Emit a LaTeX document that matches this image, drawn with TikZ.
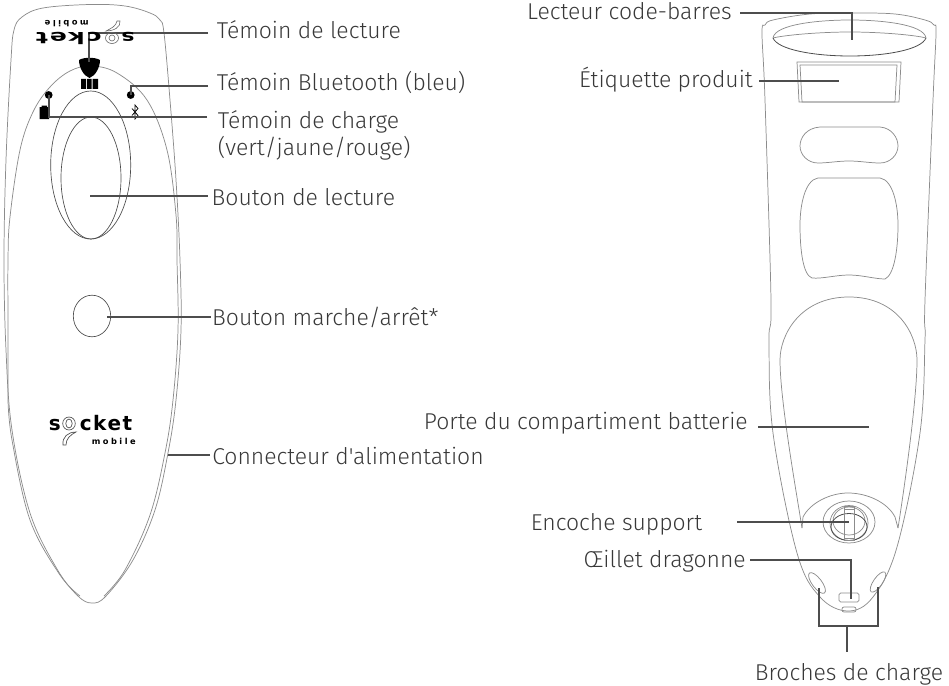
\documentclass[tikz,border=0pt]{standalone}
\usepackage{fontspec}
\newfontfamily\labfont{Fira Sans Light}
\newfontfamily\logofont{DejaVu Sans}
\definecolor{leadc}{HTML}{4D4D4D}
\definecolor{textc}{HTML}{383838}
\definecolor{outl}{HTML}{8C8C8C}
\tikzset{
 lab/.style={font=\labfont\fontsize{17.2pt}{20pt}\selectfont,text=textc,inner ysep=0pt,inner xsep=#1},
 lead/.style={draw=leadc,line width=1.6pt,line join=miter},
 body/.style={draw=outl,line width=0.55pt},
 dark/.style={draw=black!70,line width=0.6pt},
 blk/.style={fill=black,draw=none},
 logo/.style={font=\logofont\bfseries\fontsize{15pt}{15pt}\selectfont,inner sep=0pt,text=black},
 logos/.style={font=\logofont\bfseries\fontsize{6.2pt}{7pt}\selectfont,inner sep=0pt,text=black},
}
\begin{document}
\begin{tikzpicture}[x=0.75pt,y=-0.75pt]
\useasboundingbox (0,0) rectangle (949,685);
% --- left device
\draw[body] plot[smooth cycle,tension=0.6] coordinates {(92,603)(78,596)(57,569)(30,513)(12,430)(6,350)(4,260)(6,160)(11,60)(14,30)(22,17)(43,8)(90,4.5)(125,6)(150,13)(160,20)(164,33)(170,100)(176,180)(180,260)(181,330)(176,400)(168,453)(155,510)(133,560)(106,596)};
\draw[body] plot[smooth,tension=0.6] coordinates {(8,400)(8,330)(8,260)(10,217)(20,150)(33,112)(50,87)(70,71)(91,66)(117,73)(147,100)(167,150)(176,215)(177,260)(178,330)(173,400)(165,453)(150,515)(125,570)(104,596)};
\draw[body] plot[smooth,tension=0.6] coordinates {(8,400)(12,440)(30,520)(60,575)(80,596)};
\draw[draw=black!70,line width=0.5pt] (90.7,165) ellipse [x radius=40,y radius=74];
\draw[draw=black!70,line width=0.5pt] (91,178) ellipse [x radius=30,y radius=61];
\draw[draw=black!70,line width=0.5pt] (92,316) ellipse [x radius=18.7,y radius=20.8];
% top controls
\fill[blk] (79,60) .. controls (84,57) and (95,57) .. (100,60) .. controls (100,68) and (95,76) .. (89.5,78) .. controls (84,76) and (79,68) .. (79,60) -- cycle;
\fill[blk] (81,79) rectangle (86,89) (87,79) rectangle (91.5,89) (92.5,79) rectangle (98,89);
\fill[blk] (48.7,95) circle (3.9) (130.7,95) circle (3.9);
\fill[blk] (39.5,107) rectangle (49,119) (41.5,105.5) rectangle (47,107);
\draw[draw=black,line width=0.55pt] (132,108.5) -- (138,115.5) -- (135,119) -- (135,105) -- (138,108.5) -- (132,115.5);
% --- right device
\draw[body] plot[smooth cycle,tension=0.6] coordinates {(848,611)(820,597)(797,553)(773,433)(769,340)(771,300)(765,100)(762,33)(765,25)(773,20)(810,14)(852,13)(895,14)(925,20)(934,25)(936,33)(933,100)(925,300)(925,340)(920,433)(897,547)(873,597)};
\draw[body] (773,38) .. controls (775,24) and (820,20) .. (850,20) .. controls (880,20) and (924,24) .. (926,38);
\draw[body] (773,38) .. controls (785,35) and (820,32) .. (850,32) .. controls (880,32) and (915,35) .. (926,38);
\draw[dark] (773,38) .. controls (778,50) and (815,56) .. (850,56) .. controls (885,56) and (921,50) .. (926,38);
\draw[body] (797,62) -- (901,62) -- (899,102) -- (799,102) -- cycle;
\draw[body] (800,65) -- (897,65) -- (895,102) -- (802,102) -- cycle;
\draw[body] (820,127) -- (880,127) .. controls (892,128) and (898,138) .. (898,146) .. controls (898,155) and (890,163) .. (880,163) .. controls (870,163) and (860,161) .. (849,161) .. controls (838,161) and (828,163) .. (818,163) .. controls (808,163) and (800,155) .. (800,146) .. controls (800,138) and (806,128) .. (820,127) -- cycle;
\draw[body] (818,178) -- (880,178) .. controls (893,180) and (898,205) .. (898,225) .. controls (898,250) and (894,275) .. (885,279) .. controls (875,279) and (862,275) .. (849,275) .. controls (836,275) and (822,279) .. (812,278) .. controls (803,275) and (800,250) .. (800,225) .. controls (800,205) and (805,180) .. (818,178) -- cycle;
\draw[body] (802,528) .. controls (796,490) and (780,400) .. (780,360) .. controls (780,335) and (800,297) .. (849,297) .. controls (898,297) and (917,335) .. (917,360) .. controls (917,400) and (904,490) .. (898,528);
\draw[body] (802,528) -- (803,517) .. controls (810,503) and (830,493) .. (848,493) .. controls (868,493) and (888,503) .. (895,517) -- (898,528);
\draw[body] (849,522) ellipse [x radius=26,y radius=21];
\draw[body] (849,523) ellipse [x radius=19,y radius=17.5];
\draw[body] (849,521) ellipse [x radius=16,y radius=14];
\draw[dark] (849,527) ellipse [x radius=18,y radius=13.5];
\draw[body] (844.5,506) rectangle (854,540);
\draw[body] (844.5,509) -- (854,509) (844.5,538) -- (854,538);
\draw[body] (817,583) ellipse [x radius=12.5,y radius=4.8,rotate=-53];
\draw[body] (878,582) ellipse [x radius=12,y radius=4.5,rotate=55];
\draw[body,rounded corners=1.2pt] (839,593) rectangle (859,602);
\draw[body,rounded corners=1.5pt] (842,607) rectangle (856,612);
% --- leaders' free ends
\coordinate (pLect) at (89,62);
\coordinate (pLectC) at (89,33.3);
\coordinate (pBt) at (130.7,95);
\coordinate (pBtC) at (130.7,85.7);
\coordinate (pChg) at (49,95);
\coordinate (pChgC) at (49,117.3);
\coordinate (pBtn) at (90,196);
\coordinate (pPwr) at (107,316.7);
\coordinate (pConn) at (168,455);
\coordinate (pCode) at (852,40);
\coordinate (pCodeC) at (852,12.7);
\coordinate (pEtq) at (839,80.7);
\coordinate (pPorte) at (869,427);
\coordinate (pEnc) at (849,522);
\coordinate (pOei) at (851,599);
\coordinate (pOeiC) at (851,560);
\coordinate (pPinL) at (819,588);
\coordinate (pPinR) at (878,587);
\coordinate (pJoin) at (847,626);
\coordinate (pStem) at (847,652);
% --- labels
\node[lab=6.5pt,anchor=base west] (tLect) at (208,39) {Témoin de lecture};
\node[lab=6.5pt,anchor=base west] (tBt) at (208,90) {Témoin Bluetooth (bleu)};
\node[lab=8pt,anchor=base west] (tChgA) at (207,128) {Témoin de charge};
\node[lab=8pt,anchor=base west] (tChgB) at (207,155) {(vert/jaune/rouge)};
\node[lab=2.6pt,anchor=base west] (tBtn) at (208,205) {Bouton de lecture};
\node[lab=0.7pt,anchor=base west] (tPwr) at (211,325) {Bouton marche/arrêt*};
\node[lab=1.5pt,anchor=base west] (tConn) at (210,464) {Connecteur d'alimentation};
\node[lab=6pt,anchor=base east] (tCode) at (740,20) {Lecteur code-barres};
\node[lab=4.5pt,anchor=base east] (tEtq) at (759,88) {Étiquette produit};
\node[lab=7.5pt,anchor=base east] (tPorte) at (758,429) {Porte du compartiment batterie};
\node[lab=26pt,anchor=base east] (tEnc) at (737,530) {Encoche support};
\node[lab=3pt,anchor=base east] (tOei) at (750,567) {Œillet dragonne};
\node[lab=0pt,anchor=base] (tBro) at (849,680) {Broches de charge};
% --- leaders
\draw[lead] (pLectC -| tLect.west) -- (pLectC) -- (pLect);
\draw[lead] (pBtC -| tBt.west) -- (pBtC) -- (pBt);
\draw[lead] (pChgC -| tChgA.west) -- (pChgC) -- (pChg);
\draw[lead] (pBtn) -- (pBtn -| tBtn.west);
\draw[lead] (pPwr) -- (pPwr -| tPwr.west);
\draw[lead] (pConn) -- (pConn -| tConn.west);
\draw[lead] (pCodeC -| tCode.east) -- (pCodeC) -- (pCode);
\draw[lead] (pEtq -| tEtq.east) -- (pEtq);
\draw[lead] (pPorte -| tPorte.east) -- (pPorte);
\draw[lead] (pEnc -| tEnc.east) -- (pEnc);
\draw[lead] (pOeiC -| tOei.east) -- (pOeiC) -- (pOei);
\draw[lead] (pPinL) -- (pPinL |- pJoin) -- (pPinR |- pJoin) -- (pPinR);
\draw[lead] (pJoin) -- (pStem);
% --- logos (drawn above the leaders)
\node[logo,anchor=base west] (lgS) at (48.5,430) {s};
\draw[draw=black!70,line width=0.5pt] (69,423.5) ellipse [x radius=6.3,y radius=6.5] (69,423.5) ellipse [x radius=3.2,y radius=4.5];
\node[logo,anchor=base west] (lgC) at (79.5,430) {\addfontfeature{LetterSpace=8}cket};
\node[logos,anchor=base east] (lgM) at (136,444) {\addfontfeature{LetterSpace=30}mobile};
\draw[draw=black!70,line width=0.5pt,fill=white] (63,445) .. controls (62,437) and (68,432) .. (76,432) .. controls (70,435) and (66,439) .. (66,445) -- cycle;
\node[logo,anchor=base west,rotate=180,xscale=1.1,yscale=0.8] (ltS) at (135,32.5) {s};
\draw[draw=black!60,line width=0.45pt] (112,38) ellipse [x radius=6.5,y radius=5.5] (112,38) ellipse [x radius=3,y radius=3];
\node[logo,anchor=base west,rotate=180,xscale=1.25,yscale=0.8] (ltC) at (102,32.5) {\addfontfeature{LetterSpace=8}cket};
\node[logos,anchor=base west,rotate=180] (ltM) at (89,21) {\addfontfeature{LetterSpace=30}mobile};
\draw[draw=black!60,line width=0.45pt,fill=white] (120,21) .. controls (121,27) and (114,31) .. (106,31) .. controls (112,28) and (116,26) .. (117,21) -- cycle;
\end{tikzpicture}
\end{document}
